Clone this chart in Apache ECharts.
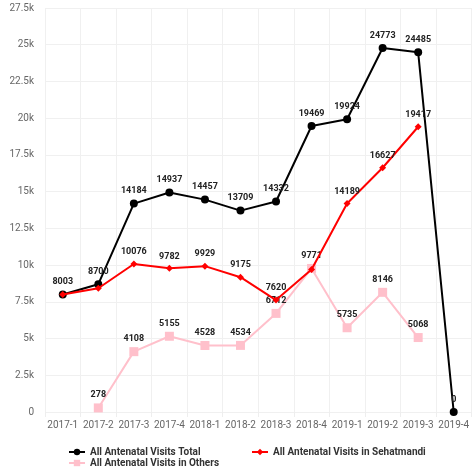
<!DOCTYPE html>
<html>
<head>
<meta charset="utf-8">
<script src="https://cdn.jsdelivr.net/npm/echarts@6/dist/echarts.min.js"></script>
<style>
  html, body { margin: 0; padding: 0; background: #fff; }
  #chart { width: 472px; height: 472px; }
</style>
</head>
<body>
<div id="chart"></div>
<script>
// Quarterly antenatal visit counts
const quarters = ['2017-1', '2017-2', '2017-3', '2017-4', '2018-1', '2018-2', '2018-3', '2018-4', '2019-1', '2019-2', '2019-3', '2019-4'];
const visitsTotal = [8003, 8700, 14184, 14937, 14457, 13709, 14332, 19469, 19924, 24773, 24485, 0];
const visitsSehatmandi = [8003, 8422, 10076, 9782, 9929, 9175, 7620, 9698, 14189, 16627, 19417, null];
const visitsOthers = [null, 278, 4108, 5155, 4528, 4534, 6712, 9771, 5735, 8146, 5068, null];
const seriesNames = ['All Antenatal Visits Total', 'All Antenatal Visits in Sehatmandi', 'All Antenatal Visits in Others'];

const chart = echarts.init(document.getElementById('chart'));

const labelStyle = {
  show: true,
  position: 'top',
  distance: 4,
  fontFamily: 'Roboto',
  fontSize: 9,
  fontWeight: 'bold',
  color: '#222'
};

function kFormat(v) {
  if (v === 0) return '0';
  return (v / 1000) + 'k';
}

const legendText = { fontFamily: 'Roboto', fontSize: 10, fontWeight: 'bold', color: '#333' };

chart.setOption({
  animation: false,
  grid: { left: 45, top: 8, width: 430, bottom: 60, containLabel: false },
  xAxis: {
    type: 'category',
    data: quarters,
    boundaryGap: true,
    axisLine: { show: false },
    axisTick: { show: true, length: 5, lineStyle: { color: '#eee' } },
    axisLabel: { fontFamily: 'Roboto', fontSize: 10, color: '#666', margin: 8, interval: 0 },
    splitLine: { show: true, lineStyle: { color: '#f0f0f0' } }
  },
  yAxis: {
    type: 'value',
    min: 0,
    max: 27500,
    interval: 2500,
    axisLine: { show: false },
    axisTick: { show: false },
    axisLabel: { fontFamily: 'Roboto', fontSize: 10, color: '#666', margin: 11, formatter: kFormat },
    splitLine: { show: true, lineStyle: { color: '#f0f0f0' } }
  },
  legend: [
    { data: [seriesNames[0]], left: 68, top: 447, itemWidth: 16, itemHeight: 8, itemGap: 4, textStyle: legendText, padding: 0 },
    { data: [seriesNames[1]], left: 251, top: 447, itemWidth: 16, itemHeight: 8, itemGap: 4, textStyle: legendText, padding: 0 },
    { data: [seriesNames[2]], left: 68, top: 458, itemWidth: 16, itemHeight: 8, itemGap: 4, textStyle: legendText, padding: 0 }
  ],
  series: [
    {
      name: seriesNames[0],
      type: 'line',
      data: visitsTotal,
      color: '#000',
      symbol: 'circle',
      symbolSize: 8,
      lineStyle: { width: 2, color: '#000' },
      label: labelStyle,
      labelLayout: { hideOverlap: true },
      z: 2
    },
    {
      name: seriesNames[1],
      type: 'line',
      data: visitsSehatmandi,
      color: '#ff0000',
      symbol: 'diamond',
      symbolSize: 7,
      lineStyle: { width: 2, color: '#ff0000' },
      label: labelStyle,
      labelLayout: { hideOverlap: true },
      z: 3
    },
    {
      name: seriesNames[2],
      type: 'line',
      data: visitsOthers,
      color: '#ffc0cb',
      symbol: 'rect',
      symbolSize: 9,
      lineStyle: { width: 2, color: '#ffc0cb' },
      label: labelStyle,
      labelLayout: { hideOverlap: true },
      z: 1
    }
  ]
});
</script>
</body>
</html>
